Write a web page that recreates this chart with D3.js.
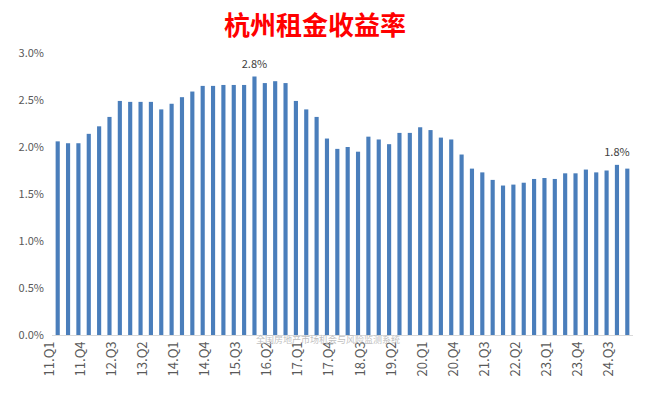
<!DOCTYPE html><html><head><meta charset="utf-8"><script src="https://cdn.jsdelivr.net/npm/d3@7"></script>
<style>body{margin:0;background:#fff}</style></head><body><svg id="c" width="647" height="403"></svg><script>
const values=[2.06,2.04,2.04,2.14,2.22,2.32,2.49,2.48,2.48,2.48,2.40,2.46,2.53,2.59,2.65,2.65,2.66,2.66,2.66,2.75,2.68,2.70,2.68,2.49,2.40,2.32,2.09,1.98,2.00,1.95,2.11,2.08,2.03,2.15,2.15,2.21,2.18,2.10,2.08,1.92,1.77,1.73,1.65,1.59,1.60,1.62,1.66,1.67,1.66,1.72,1.72,1.76,1.73,1.75,1.81,1.77];
const categories=[];for(let yr=11;yr<=24;yr++)for(let q=1;q<=4;q++)categories.push(yr+".Q"+q);
const yTicks=[0,0.5,1,1.5,2,2.5,3];
const labelled={19:"2.8%",54:"1.8%"};
const svg=d3.select("#c");
const font="'Microsoft YaHei','Noto Sans CJK SC',sans-serif";
const x=d3.scaleBand().domain(categories).range([52,633]).paddingInner(0.6).paddingOuter(0.35);
const y=d3.scaleLinear().domain([0,3]).range([335,53]);
svg.append("text").attr("x",315).attr("y",35).attr("text-anchor","middle").attr("fill","#ff0000")
 .attr("font-size",26).attr("font-weight","bold").attr("font-family",font).text("杭州租金收益率");
const ya=svg.append("g").attr("transform","translate(47,0)").call(d3.axisLeft(y).tickValues(yTicks).tickFormat(d=>d.toFixed(1)+"%").tickSize(0));
ya.select(".domain").remove();
ya.selectAll("text").attr("font-size",11).attr("fill","#595959").attr("font-family",font);
svg.append("g").selectAll("rect").data(values).join("rect")
 .attr("x",(d,i)=>x(categories[i])).attr("width",x.bandwidth())
 .attr("y",d=>y(d)).attr("height",d=>y(0)-y(d)).attr("fill","#4a7ebb");
svg.append("line").attr("x1",52).attr("x2",633).attr("y1",y(0)+0.5).attr("y2",y(0)+0.5).attr("stroke","#d9d9d9");
const xa=svg.append("g").attr("transform","translate(0,"+y(0)+")")
 .call(d3.axisBottom(x).tickValues(categories.filter((c,i)=>i%3===0)).tickSize(0));
xa.select(".domain").remove();
xa.selectAll("text").attr("transform","rotate(-90)").attr("text-anchor","end").attr("dx","-0.5em").attr("dy","-0.3em").attr("x",0).attr("y",0)
 .attr("font-size",13).attr("fill","#595959").attr("font-family",font);
Object.entries(labelled).forEach(([i,t])=>{svg.append("text").attr("x",x(categories[i])+x.bandwidth()/2).attr("y",y(values[i])-9)
 .attr("text-anchor","middle").attr("font-size",11).attr("fill","#404040").attr("font-family",font).text(t);});
svg.append("text").attr("x",328).attr("y",343).attr("text-anchor","middle").attr("font-size",9).attr("fill","#bfbfbf")
 .attr("font-family",font).text("全国房地产市场机会与风险监测系统");
</script></body></html>
